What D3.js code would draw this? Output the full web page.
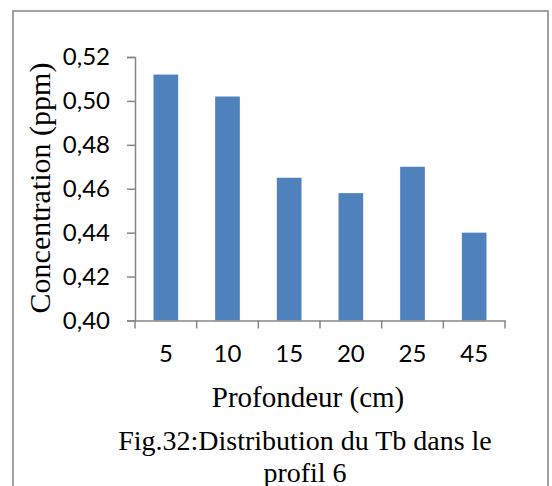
<!DOCTYPE html>
<html>
<head>
<meta charset="utf-8">
<script src="https://cdn.jsdelivr.net/npm/d3@7"></script>
<style>
  body { margin: 0; background: #fff; }
  svg { display: block; }
</style>
</head>
<body>
<svg id="chart"></svg>
<script>
// data
const depths = ['5', '10', '15', '20', '25', '45'];
const concentrations = [0.512, 0.502, 0.465, 0.458, 0.470, 0.440];
const yTicks = [0.40, 0.42, 0.44, 0.46, 0.48, 0.50, 0.52];

const width = 552;
const height = 486;

const svg = d3.select('#chart')
  .attr('width', width)
  .attr('height', height);

// outer frame
svg.append('rect')
  .attr('x', 13)
  .attr('y', 11)
  .attr('width', 535)
  .attr('height', 500)
  .attr('fill', 'none')
  .attr('stroke', '#8a8a8a')
  .attr('stroke-width', 1.6);

const xScale = d3.scaleBand().domain(depths).range([135, 505])
  .paddingInner(0.6).paddingOuter(0.3);
const yScale = d3.scaleLinear().domain([0.40, 0.52]).range([320.5, 57]);

const fr = d3.formatLocale({ decimal: ',', thousands: ' ', grouping: [3], currency: ['', ''] });
const fmt = fr.format('.2f');

// bars
svg.selectAll('.bar')
  .data(concentrations)
  .enter()
  .append('rect')
  .attr('class', 'bar')
  .attr('x', (d, i) => xScale(depths[i]))
  .attr('y', (d) => yScale(d))
  .attr('width', xScale.bandwidth())
  .attr('height', (d) => yScale(0.40) - yScale(d))
  .attr('fill', '#4f81bd');

// y axis
const yAxis = d3.axisLeft(yScale).tickValues(yTicks).tickFormat(fmt)
  .tickSize(8).tickPadding(17);
const gy = svg.append('g').attr('transform', 'translate(135,0)').call(yAxis);
gy.select('.domain').attr('stroke', '#868686').attr('stroke-width', 1.5);
gy.selectAll('.tick line').attr('stroke', '#868686').attr('stroke-width', 1.5);
gy.selectAll('.tick text')
  .attr('font-family', 'Lato, sans-serif')
  .attr('font-size', 24)
  .attr('fill', '#000');

// x axis: labels at centers, ticks at category boundaries
const xAxis = d3.axisBottom(xScale).tickSize(0).tickPadding(24);
const gx = svg.append('g').attr('transform', `translate(0,${yScale(0.40)})`).call(xAxis);
gx.select('.domain').attr('stroke', '#868686').attr('stroke-width', 1.5);
gx.selectAll('.tick text')
  .attr('font-family', 'Lato, sans-serif')
  .attr('font-size', 24)
  .attr('fill', '#000');

const bounds = d3.range(depths.length + 1).map((i) => xScale.range()[0] + i * xScale.step());
gx.selectAll('.bound')
  .data(bounds)
  .enter()
  .append('line')
  .attr('class', 'bound')
  .attr('x1', (d) => d)
  .attr('x2', (d) => d)
  .attr('y1', 0)
  .attr('y2', 8)
  .attr('stroke', '#868686')
  .attr('stroke-width', 1.5);

// titles
svg.append('text')
  .attr('transform', 'translate(50,188) rotate(-90)')
  .attr('text-anchor', 'middle')
  .attr('font-family', 'Liberation Serif, Times New Roman, serif')
  .attr('font-size', 30)
  .text('Concentration (ppm)');

svg.append('text')
  .attr('x', 308)
  .attr('y', 407)
  .attr('text-anchor', 'middle')
  .attr('font-family', 'Liberation Serif, Times New Roman, serif')
  .attr('font-size', 29)
  .text('Profondeur (cm)');

const caption = svg.append('text')
  .attr('text-anchor', 'middle')
  .attr('font-family', 'Liberation Serif, Times New Roman, serif')
  .attr('font-size', 28);
caption.append('tspan').attr('x', 305).attr('y', 450).text('Fig.32:Distribution du Tb dans le');
caption.append('tspan').attr('x', 305).attr('y', 482).text('profil 6');
</script>
</body>
</html>
